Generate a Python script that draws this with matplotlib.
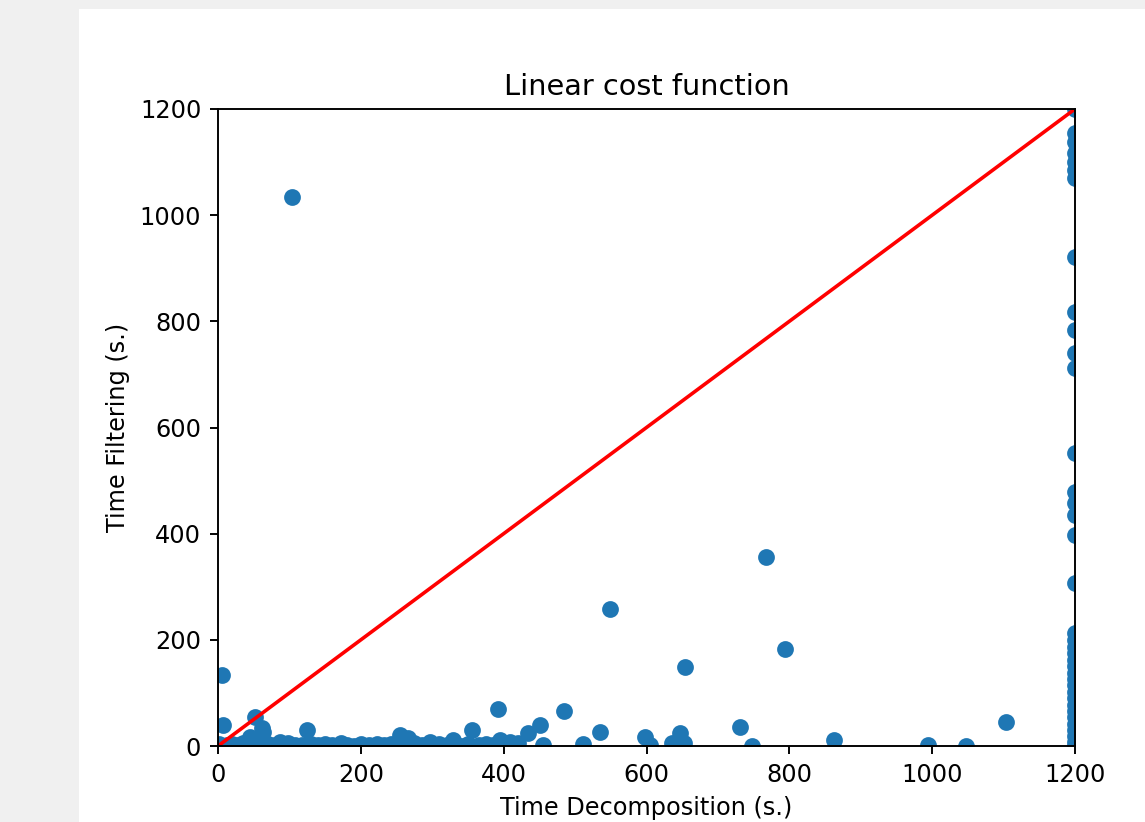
import matplotlib
matplotlib.use("Agg")
import matplotlib.pyplot as plt
from matplotlib.patches import Rectangle

# timings (seconds)
time_decomp = [
    103, 5, 7, 52, 61, 63, 45, 124, 87, 255, 266, 297, 329, 355, 392, 395,
    409, 420, 434, 451, 455, 484, 511, 535, 549, 598, 605, 636, 647, 652,
    654, 731, 748, 768, 794, 862, 994, 1048, 1103,
    # points lying on the bottom band
    0, 2, 12, 20, 28, 35, 42, 50, 58, 70, 80, 90, 98, 108, 118, 130, 140,
    150, 160, 172, 180, 190, 200, 212, 222, 232, 242, 262, 275, 285, 310,
    320, 340, 350, 365, 375, 385, 402, 418,
]
time_filter = [
    1034, 134, 40, 55, 34, 26, 17, 30, 8, 21, 15, 8, 11, 30, 70, 11,
    8, 6, 24, 40, 2, 66, 4, 26, 258, 17, 2, 5, 24, 5,
    149, 36, 0, 356, 182, 11, 2, 0, 45,
    0, 3, 2, 4, 1, 5, 3, 6, 2, 4, 1, 3, 5, 2, 1, 4, 2,
    3, 1, 5, 2, 0, 3, 1, 4, 2, 3, 2, 5, 1, 3,
    2, 0, 4, 1, 3, 2, 4, 1,
]

# runs that hit the 1200 s time-out on decomposition
timeout_filter = [
    1200, 1155, 1138, 1117, 1100, 1085, 1070, 921, 818, 784, 740, 712,
    552, 479, 458, 435, 397, 307, 213, 200, 187, 175, 162, 150, 138, 126,
    114, 102, 90, 78, 66, 54, 42, 30, 18, 8, 0,
]
timeout = 1200

W, H = 1145, 822
dpi = 172.5
fig = plt.figure(figsize=(W / dpi, H / dpi), dpi=dpi)
fig.patch.set_facecolor("#f0f0f0")
fig.patches.append(Rectangle((79 / W, 0), 1, 1 - 9 / H, transform=fig.transFigure,
                             facecolor="white", edgecolor="none", zorder=-1))

ax = fig.add_axes([218 / W, 1 - 746 / H, (1075 - 218) / W, (746 - 109) / H])
ax.scatter(time_decomp + [timeout] * len(timeout_filter),
           time_filter + timeout_filter)
ax.plot([0, timeout], [0, timeout], color="r")
ax.set_xlim(0, timeout)
ax.set_ylim(0, timeout)
ax.set_xticks([0, 200, 400, 600, 800, 1000, 1200])
ax.set_yticks([0, 200, 400, 600, 800, 1000, 1200])
ax.set_title("Linear cost function")
ax.set_xlabel("Time Decomposition (s.)")
ax.set_ylabel("Time Filtering (s.)")

fig.savefig("out.png", dpi=dpi, facecolor=fig.get_facecolor())
